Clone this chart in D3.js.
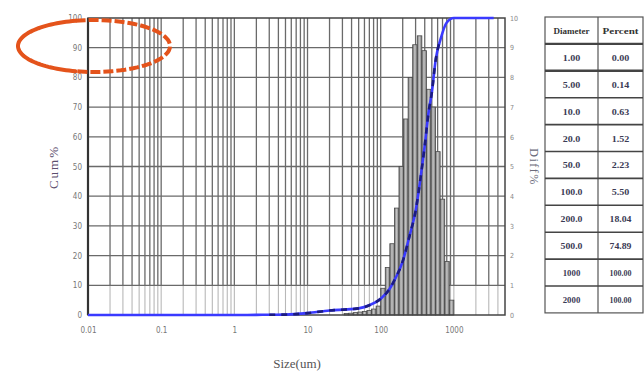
<!DOCTYPE html>
<html>
<head>
<meta charset="utf-8">
<script src="https://cdn.jsdelivr.net/npm/d3@7"></script>
<style>
  html, body { margin: 0; padding: 0; background: #fff; }
  svg { display: block; }
</style>
</head>
<body>
<svg id="chart" width="644" height="371"></svg>
<script>
// Particle size distribution: cumulative % (left axis) and channel % (right axis)

// cumulative curve: size (um) and cumulative percent
const cumSizes = [0.01, 0.1, 1, 2, 3, 5, 10, 20, 35, 50, 70, 100, 130, 160, 200, 250, 300, 350, 400, 450, 500, 565, 660, 800, 1000, 2000, 3500];
const cumValues = [0, 0, 0, 0.05, 0.09, 0.14, 0.63, 1.52, 1.9, 2.23, 3.3, 5.5, 8.5, 12.5, 18.04, 27, 35, 46, 57, 68, 74.89, 86, 93, 98.5, 100, 100, 100];

// channel histogram: lower bin edges (um) and channel percent
const binEdges = [31.6, 36.5, 42.2, 48.7, 56.2, 64.9, 75.0, 86.6,
                  100, 115.5, 133.4, 154.0, 177.8, 205.4, 237.1, 273.8,
                  316.2, 365.2, 421.7, 487.0, 562.3, 649.4, 749.9, 866.0, 1000];
const binValues = [0.05, 0.06, 0.08, 0.1, 0.12, 0.15, 0.2, 0.3,
                   0.9, 1.6, 2.4, 3.6, 5.0, 6.6, 8.0, 9.1,
                   9.4, 8.9, 7.6, 7.0, 5.5, 3.9, 1.8, 0.5];

// axis ticks
const xTickValues = [0.01, 0.1, 1, 10, 100, 1000];
const xTickLabels = ["0.01", "0.1", "1", "10", "100", "1000"];
const cumTicks = [0, 10, 20, 30, 40, 50, 60, 70, 80, 90, 100];
const diffTicks = [0, 1, 2, 3, 4, 5, 6, 7, 8, 9, 10];

// summary table
const tableHeader = ["Diameter", "Percent"];
const tableDiameters = ["1.00", "5.00", "10.0", "20.0", "50.0", "100.0", "200.0", "500.0", "1000", "2000"];
const tablePercents = ["0.00", "0.14", "0.63", "1.52", "2.23", "5.50", "18.04", "74.89", "100.00", "100.00"];

const svg = d3.select("#chart");
const L = 88, R = 505, T = 18, B = 315;

const x = d3.scaleLog().domain([0.01, 5000]).range([L, R]);
const yCum = d3.scaleLinear().domain([0, 100]).range([B, T]);
const yDiff = d3.scaleLinear().domain([0, 10]).range([B, T]);

const defs = svg.append("defs");
const grad = defs.append("linearGradient").attr("id", "barGrad")
  .attr("x1", "0%").attr("x2", "100%").attr("y1", "0%").attr("y2", "0%");
grad.append("stop").attr("offset", "0%").attr("stop-color", "#6e6e6e");
grad.append("stop").attr("offset", "45%").attr("stop-color", "#c4c4c4");
grad.append("stop").attr("offset", "100%").attr("stop-color", "#7a7a7a");

// plot background
svg.append("rect").attr("x", L).attr("y", T).attr("width", R - L).attr("height", B - T).attr("fill", "#fff");

// log grid lines
const gridVals = [];
for (let e = -2; e <= 3; e++) {
  for (let m = 1; m <= 9; m++) {
    const v = m * Math.pow(10, e);
    if (v > 0.01 && v < 5000) gridVals.push(v);
  }
}
const grid = svg.append("g");
grid.selectAll("line.vu").data(gridVals).join("line")
  .attr("x1", d => x(d)).attr("x2", d => x(d))
  .attr("y1", T).attr("y2", yCum(10))
  .attr("stroke", "#6a6a6a").attr("stroke-width", 1.3);
grid.selectAll("line.vl").data(gridVals).join("line")
  .attr("x1", d => x(d)).attr("x2", d => x(d))
  .attr("y1", yCum(10)).attr("y2", B)
  .attr("stroke", "#b8b8b8").attr("stroke-width", 1.1);
grid.selectAll("line.h").data(cumTicks.slice(1, -1)).join("line")
  .attr("x1", L).attr("x2", R)
  .attr("y1", d => yCum(d)).attr("y2", d => yCum(d))
  .attr("stroke", "#6a6a6a").attr("stroke-width", 1.3);

// histogram bars
const bins = binValues.map((v, i) => ({ lo: binEdges[i], hi: binEdges[i + 1], v }));
svg.append("g").selectAll("rect").data(bins).join("rect")
  .attr("x", d => x(d.lo))
  .attr("width", d => x(d.hi) - x(d.lo))
  .attr("y", d => yDiff(d.v))
  .attr("height", d => yDiff(0) - yDiff(d.v))
  .attr("fill", "url(#barGrad)")
  .attr("stroke", "#4a4a4a").attr("stroke-width", 0.8);

// frame
svg.append("rect").attr("x", L).attr("y", T).attr("width", R - L).attr("height", B - T)
  .attr("fill", "none").attr("stroke", "#444").attr("stroke-width", 1.5);
svg.append("line").attr("x1", L).attr("x2", L).attr("y1", T).attr("y2", B)
  .attr("stroke", "#333").attr("stroke-width", 2.2);

// cumulative curve
const cumPts = cumSizes.map((s, i) => ({ s, v: cumValues[i] }));
const line = d3.line().x(d => x(d.s)).y(d => yCum(d.v)).curve(d3.curveMonotoneX);
svg.append("path").datum(cumPts).attr("d", line)
  .attr("fill", "none").attr("stroke", "#3a3aff").attr("stroke-width", 2.6);
svg.append("path").datum(cumPts.filter(d => d.s >= 3 && d.s <= 660)).attr("d", line)
  .attr("fill", "none").attr("stroke", "#1c1c80").attr("stroke-width", 2.6)
  .attr("stroke-dasharray", "6,6");

// left axis (cumulative %)
const axisFont = "DejaVu Sans Condensed, DejaVu Sans, sans-serif";
const leftAxis = svg.append("g").attr("transform", `translate(${L},0)`)
  .call(d3.axisLeft(yCum).tickValues(cumTicks).tickSize(0).tickPadding(6));
leftAxis.select(".domain").remove();
leftAxis.selectAll("text").attr("font-family", axisFont).attr("font-size", 8).attr("fill", "#777");

// right axis (channel %)
const rightAxis = svg.append("g").attr("transform", `translate(${R},0)`)
  .call(d3.axisRight(yDiff).tickValues(diffTicks).tickSize(0).tickPadding(5));
rightAxis.select(".domain").remove();
rightAxis.selectAll("text").attr("font-family", axisFont).attr("font-size", 7).attr("fill", "#888");

// bottom axis (size)
const bottomAxis = svg.append("g").attr("transform", `translate(0,${B})`)
  .call(d3.axisBottom(x).tickValues(xTickValues).tickSize(0).tickPadding(12)
    .tickFormat((d, i) => xTickLabels[i]));
bottomAxis.select(".domain").remove();
bottomAxis.selectAll("text").attr("font-family", axisFont).attr("font-size", 8).attr("fill", "#777");

// axis titles
svg.append("text").attr("transform", "translate(58,167) rotate(-90)")
  .attr("text-anchor", "middle").attr("font-family", "Liberation Serif, serif")
  .attr("font-size", 13).attr("letter-spacing", 2).attr("fill", "#5c4f6e").text("Cum%");
svg.append("text").attr("transform", "translate(530,167) rotate(90)")
  .attr("text-anchor", "middle").attr("font-family", "Liberation Serif, serif")
  .attr("font-size", 12).attr("letter-spacing", 1.5).attr("fill", "#6b6b7b").text("Diff%");
svg.append("text").attr("x", 297).attr("y", 368)
  .attr("text-anchor", "middle").attr("font-family", "Liberation Serif, serif")
  .attr("font-size", 13).attr("fill", "#555").text("Size(um)");

// summary table
const tL = 545, tR = 643, tMid = 598, tT = 17, rowH = 26.9;
const rows = [tableHeader].concat(tableDiameters.map((d, i) => [d, tablePercents[i]]));
const table = svg.append("g");
table.append("rect").attr("x", tL).attr("y", tT).attr("width", tR - tL).attr("height", rowH * rows.length)
  .attr("fill", "#fff").attr("stroke", "#555").attr("stroke-width", 1.2);
table.append("line").attr("x1", tMid).attr("x2", tMid).attr("y1", tT).attr("y2", tT + rowH * rows.length)
  .attr("stroke", "#555").attr("stroke-width", 1.2);
table.selectAll("line.r").data(d3.range(1, rows.length)).join("line")
  .attr("x1", tL).attr("x2", tR)
  .attr("y1", d => tT + d * rowH).attr("y2", d => tT + d * rowH)
  .attr("stroke", "#444").attr("stroke-width", d => d <= 2 ? 2.4 : 1.6);
rows.forEach((r, i) => {
  const cy = tT + i * rowH + rowH / 2 + 3.5;
  [[(tL + tMid) / 2, r[0]], [(tMid + tR) / 2, r[1]]].forEach(([cx, t]) => {
    table.append("text").attr("x", cx).attr("y", cy)
      .attr("text-anchor", "middle")
      .attr("font-family", "Liberation Serif, serif")
      .attr("font-weight", "bold")
      .attr("font-size", i === 0 ? 9 : 9)
      .attr("textLength", i === 0 ? 36 : Math.min(22, t.length * 4.4))
      .attr("lengthAdjust", "spacingAndGlyphs")
      .attr("fill", i === 0 ? "#333" : "#3b3b55")
      .text(t);
  });
});

// highlight ellipse around the top of the cumulative axis
const ex = 94, ey = 46, erx = 76, ery = 26;
const ellipsePath = (a0, a1) => {
  const pts = d3.range(0, 61).map(k => {
    const a = a0 + (a1 - a0) * k / 60;
    return [ex + erx * Math.cos(a), ey + ery * Math.sin(a)];
  });
  return d3.line()(pts);
};
const deg = Math.PI / 180;
svg.append("path").attr("d", ellipsePath(104 * deg, 256 * deg))
  .attr("fill", "none").attr("stroke", "#e4531b").attr("stroke-width", 4).attr("stroke-linecap", "round");
svg.append("path").attr("d", ellipsePath(-104 * deg, 104 * deg))
  .attr("fill", "none").attr("stroke", "#e4531b").attr("stroke-width", 4)
  .attr("stroke-dasharray", "10,3");
</script>
</body>
</html>
